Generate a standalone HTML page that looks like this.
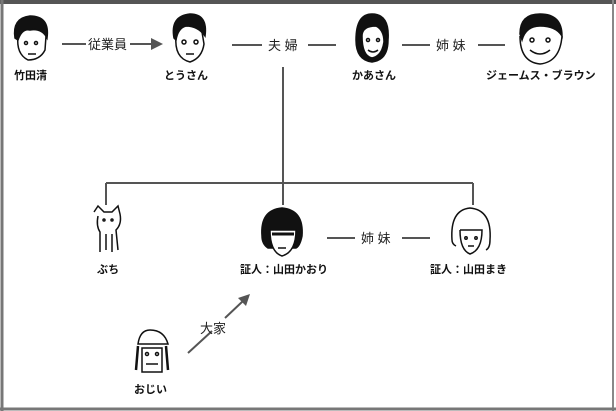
<!DOCTYPE html>
<html><head><meta charset="utf-8"><style>
body{margin:0;background:#fff}
svg{display:block}
text{font-family:"Liberation Sans","Noto Sans CJK JP",sans-serif}
.n{font-size:11px;font-weight:bold;fill:#111}
.l{font-size:13px;fill:#222}
</style></head><body>
<svg width="616" height="411" viewBox="0 0 616 411">
<rect x="0" y="0" width="616" height="411" fill="#fff"/>
<!-- frame -->
<g fill="none" stroke="#555">
<path d="M0 2 H616" stroke-width="4"/>
<path d="M2 0 V411" stroke-width="3" stroke="#777"/>
<path d="M613 0 V411" stroke-width="2" stroke="#888"/>
<path d="M0 409 H616" stroke-width="3" stroke="#777"/>
</g>
<!-- connectors -->
<g stroke="#555" stroke-width="2" fill="none">
<path d="M62 44 H86 M130 44 H152"/>
<path d="M232 45 H262 M308 45 H336"/>
<path d="M402 45 H430 M478 45 H505"/>
<path d="M283 67 V183 M106 183 H473 M106 183 V205 M283 183 V205 M473 183 V205"/>
<path d="M327 238 H355 M402 238 H430"/>
<path d="M188 353 L212 331 M225 318 L243 301"/>
</g>
<path d="M151 38 L163 44 L151 50 Z" fill="#555"/>
<path d="M250 294 L238 298 L246 306 Z" fill="#555"/>
<text class="l" x="88" y="49">従業員</text>
<text class="l" x="268" y="50">夫 婦</text>
<text class="l" x="436" y="50">姉 妹</text>
<text class="l" x="361" y="243">姉 妹</text>
<text class="l" x="200" y="333">大家</text>
<!-- faces -->
<g stroke="#111" stroke-width="1.5" fill="none">
<!-- 竹田清 -->
<path d="M18 36 Q16 54 28 60 Q40 60 45 50 L46 36"/>
<path d="M15 38 Q12 18 30 16 Q50 16 47 38 Q42 28 30 30 Q22 28 18 40Z" fill="#111"/>
<circle cx="26" cy="43" r="1.5"/><circle cx="36" cy="43" r="1.5"/><path d="M28 54 H36"/>
<!-- とうさん -->
<path d="M176 36 Q174 58 190 62 Q202 58 204 44 L202 32"/>
<path d="M174 38 Q170 16 190 14 Q208 14 205 36 Q198 26 186 26 Q178 28 176 40Z" fill="#111"/>
<circle cx="184" cy="42" r="2"/><circle cx="196" cy="42" r="2"/><path d="M186 54 H194"/>
<!-- かあさん -->
<path d="M356 40 Q356 14 372 14 Q390 14 388 40 Q388 60 372 62 Q356 60 356 40Z" fill="#111"/>
<path d="M362 36 Q362 26 376 26 Q384 30 384 42 Q382 56 372 58 Q362 56 362 36Z" fill="#fff"/>
<circle cx="368" cy="40" r="1.5"/><circle cx="378" cy="40" r="1.5"/><path d="M368 50 Q373 54 378 50"/>
<!-- ジェームス -->
<path d="M520 34 Q520 14 540 14 Q562 14 562 36 Q556 26 540 26 Q526 26 522 40Z" fill="#111"/>
<path d="M520 36 Q520 62 540 64 Q560 62 562 36"/>
<circle cx="532" cy="40" r="2"/><circle cx="548" cy="40" r="2"/><path d="M530 50 Q540 58 550 50"/>
<!-- ぶち -->
<path d="M94 212 L98 206 L104 212 L112 212 L118 206 L120 214 Q122 224 116 230 L118 250 M98 216 Q96 226 100 232 L100 252 M106 234 V250 M112 234 V252"/>
<circle cx="104" cy="220" r="1"/><circle cx="112" cy="220" r="1"/>
<!-- かおり -->
<path d="M262 236 Q260 210 282 208 Q304 210 302 236 Q300 246 296 248 L268 248 Q262 244 262 236Z" fill="#111"/>
<path d="M270 230 H296 Q296 252 282 256 Q270 252 270 230Z" fill="#fff"/>
<path d="M272 234 H294" stroke-width="3"/><path d="M278 248 H286"/>
<!-- まき -->
<path d="M452 240 Q450 210 470 208 Q492 210 490 240 Q490 248 486 250 M456 246 Q452 244 452 240"/>
<path d="M460 230 H482 Q482 250 470 254 Q460 250 460 230"/>
<circle cx="466" cy="238" r="1.2"/><circle cx="476" cy="238" r="1.2"/><path d="M468 246 H474"/>
<!-- おじい -->
<path d="M138 344 Q140 330 150 330 Q164 330 168 344 Z" fill="#fff"/>
<path d="M138 346 L136 370 M166 346 L168 370" stroke-width="2.5"/>
<path d="M142 348 H162 V372 H142 Z"/>
<circle cx="147" cy="354" r="1.5"/><circle cx="157" cy="354" r="1.5"/><path d="M146 364 H158"/>
</g>
<!-- names -->
<text class="n" x="14" y="79">竹田清</text>
<text class="n" x="164" y="79">とうさん</text>
<text class="n" x="352" y="79">かあさん</text>
<text class="n" x="486" y="79">ジェームス・ブラウン</text>
<text class="n" x="97" y="273">ぶち</text>
<text class="n" x="240" y="273">証人：山田かおり</text>
<text class="n" x="430" y="273">証人：山田まき</text>
<text class="n" x="134" y="393">おじい</text>
</svg>
</body></html>
